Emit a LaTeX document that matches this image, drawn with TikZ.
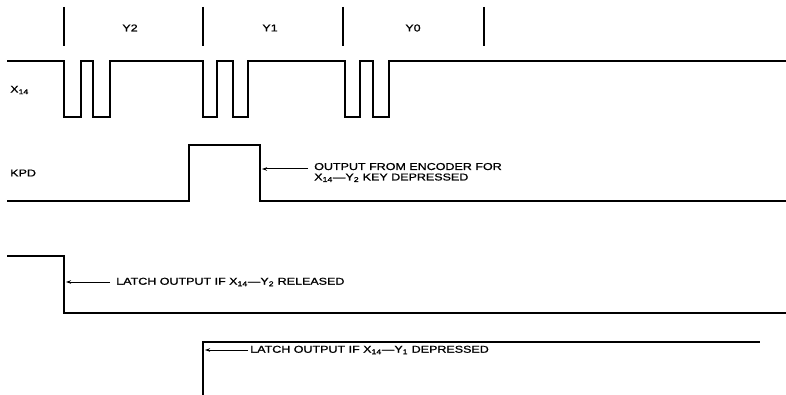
\documentclass[tikz,border=0pt]{standalone}
\usepackage{fontspec}
\setmainfont{Liberation Sans}[FakeBold=0.9]
\usetikzlibrary{arrows.meta}
\begin{document}
\begin{tikzpicture}[x=1pt,y=-1pt,
  wave/.style={line width=2.2pt,line join=miter},
  tick/.style={line width=1.3pt},
  lbl/.style={font=\fontsize{10}{12}\selectfont,xscale=1.25,inner sep=0pt},
  note/.style={lbl,anchor=west,align=left},
  pointer/.style={line width=1pt,-{Stealth[length=5pt,width=3.5pt]}}]
\useasboundingbox (0,0) rectangle (786,395);
% time ticks
\foreach \x/\n in {64/t0,203/t1,343/t2,484/t3}{
  \coordinate (\n a) at (\x,7); \coordinate (\n b) at (\x,46);
  \draw[tick] (\n a) -- (\n b);}
\node[lbl] (y2) at (130,28) {Y2};
\node[lbl] (y1) at (270,28) {Y1};
\node[lbl] (y0) at (413,28) {Y0};
% X14
\node[lbl,anchor=west] (x14) at (10,90) {X\textsubscript{14}};
\draw[wave] (7,61) -| (64,117) -| (81,61) -| (93,117) -| (110,61)
  -| (203,117) -| (217,61) -| (233,117) -| (248,61)
  -| (345,117) -| (360,61) -| (373,117) -| (389,61) -- (786,61);
% KPD
\node[lbl,anchor=west] (kpd) at (10,173) {KPD};
\draw[wave] (7,201) -| (189,145) -| (260,201) -- (786,201);
\coordinate (kpdedge) at (262,169);
\node[note] (n1) at (314,172.5) {OUTPUT FROM ENCODER FOR\\[-1.5pt]X\textsubscript{14}—Y\textsubscript{2} KEY DEPRESSED};
\coordinate (n1tail) at (308,169);
\draw[pointer] (n1tail) -- (kpdedge);
% Latch 1
\draw[wave] (7,256) -| (64,313) -- (786,313);
\coordinate (l1edge) at (66,282);
\coordinate (l1tail) at (110,282);
\node[note] (n2) at (116,282) {LATCH OUTPUT IF X\textsubscript{14}—Y\textsubscript{2} RELEASED};
\draw[pointer] (l1tail) -- (l1edge);
% Latch 2
\draw[wave] (203,395) |- (760,342);
\coordinate (l2edge) at (205,350);
\coordinate (l2tail) at (248,350);
\node[note] (n3) at (250,350) {LATCH OUTPUT IF X\textsubscript{14}—Y\textsubscript{1} DEPRESSED};
\draw[pointer] (l2tail) -- (l2edge);
\end{tikzpicture}
\end{document}
